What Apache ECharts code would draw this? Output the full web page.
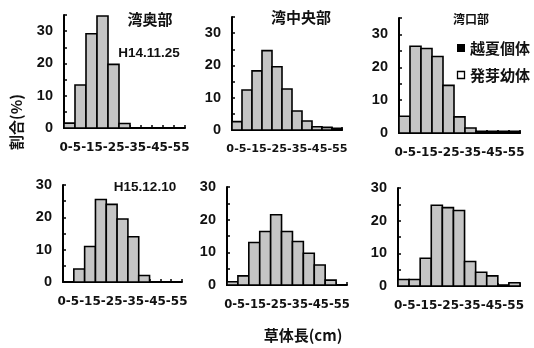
<!DOCTYPE html>
<html>
<head>
<meta charset="utf-8">
<script src="https://cdn.jsdelivr.net/npm/echarts@6/dist/echarts.min.js"></script>
<style>
html,body{margin:0;padding:0;background:#fff;}
#c{width:534px;height:348px;}
</style>
</head>
<body>
<div id="c"></div>
<script>
// ---- data ----
const binStarts = [0, 5, 10, 15, 20, 25, 30, 35, 40, 45, 50];
const binWidth = 5;
const xTickLabels = ['0', '5', '15', '25', '35', '45', '55'];
const yTickLabels = ['0', '10', '20', '30'];
const panelTitles = ['湾奥部', '湾中央部', '湾口部'];
const dateLabels = ['H14.11.25', 'H15.12.10'];
const legendLabels = ['越夏個体', '発芽幼体'];
const xAxisTitle = '草体長(cm)';
const yAxisTitle = '割合(%)';

const okuH14   = [1.5, 13.3, 29.2, 34.7, 19.7, 1.4, 0, 0, 0, 0, 0];
const chuoH14  = [2.6, 12.4, 18.3, 24.6, 19.6, 12.7, 5.9, 2.8, 1.0, 0.8, 0.5];
const kouH14   = [5.1, 26.4, 25.7, 23.3, 14.5, 4.9, 1.5, 0.5, 0.5, 0.5, 0.5];
const okuH15   = [0, 4.0, 11.0, 25.5, 24.0, 19.5, 14.0, 2.0, 0, 0, 0];
const chuoH15  = [1.0, 2.8, 13.0, 16.4, 21.5, 16.4, 13.3, 9.7, 6.1, 1.5, 0];
const kouH15   = [2.0, 2.0, 8.5, 24.7, 24.0, 23.1, 7.5, 4.2, 3.1, 0.3, 1.0];

// ---- layout ----
const panels = [
  {vals: okuH14,  left: 64,  top: 15,  width: 121, height: 113, max: 35, lab: 12},
  {vals: chuoH14, left: 232, top: 17,  width: 110, height: 113, max: 35, lab: 11.2},
  {vals: kouH14,  left: 399, top: 18,  width: 121, height: 115, max: 35, lab: 12},
  {vals: okuH15,  left: 63,  top: 185, width: 119, height: 97,  max: 30, lab: 12},
  {vals: chuoH15, left: 227, top: 187, width: 120, height: 98,  max: 30, lab: 11.6},
  {vals: kouH15,  left: 398, top: 188, width: 122, height: 98,  max: 30, lab: 12}
];

const numFont = '"Liberation Sans", Arial, sans-serif';
const tickFont = '"DejaVu Sans", sans-serif';
const cjkFont = '"Noto Sans CJK JP", sans-serif';
const lastX = Number(xTickLabels[xTickLabels.length - 1]);
const firstX = Number(xTickLabels[0]);

const grids = [], xAxes = [], yAxes = [], series = [];
panels.forEach((p, i) => {
  grids.push({left: p.left, top: p.top, width: p.width, height: p.height, containLabel: false});
  xAxes.push({
    type: 'value', gridIndex: i, min: firstX, max: lastX, interval: binWidth,
    axisLine: {show: true, onZero: false, lineStyle: {color: '#000', width: 2}},
    axisTick: {show: true, inside: true, length: 3, lineStyle: {color: '#000', width: 1.5}},
    splitLine: {show: false},
    axisLabel: {
      show: true, customValues: [(firstX + lastX) / 2], margin: 14, hideOverlap: false,
      color: '#111', fontFamily: tickFont, fontWeight: 'bold', fontSize: p.lab,
      formatter: () => xTickLabels.join('-')
    }
  });
  yAxes.push({
    type: 'value', gridIndex: i, min: 0, max: p.max, interval: 5,
    axisLine: {show: true, lineStyle: {color: '#000', width: 2}},
    axisTick: {show: true, inside: true, length: 3, lineStyle: {color: '#000', width: 1.5}},
    splitLine: {show: false},
    axisLabel: {
      show: true, margin: 11, color: '#111', fontFamily: numFont, fontWeight: 'bold', fontSize: 14.5,
      hideOverlap: false,
      formatter: v => (yTickLabels.indexOf(String(v)) >= 0 ? String(v) : '')
    }
  });
  series.push({
    type: 'custom', xAxisIndex: i, yAxisIndex: i,
    dimensions: ['start', 'end', 'pct'],
    encode: {x: [0, 1], y: 2},
    data: binStarts.map((s, k) => [s, s + binWidth, p.vals[k]]),
    renderItem: function (params, api) {
      const v = api.value(2);
      if (!v) return null;
      const p0 = api.coord([api.value(0), 0]);
      const p1 = api.coord([api.value(1), v]);
      return {
        type: 'rect',
        shape: {x: p0[0], y: p1[1], width: p1[0] - p0[0], height: p0[1] - p1[1]},
        style: {fill: '#c5c5c5', stroke: '#000', lineWidth: 1.6}
      };
    }
  });
});

const txt = (text, x, y, size, font, extra) => Object.assign({
  type: 'text', x: x, y: y,
  style: {text: text, fill: '#111', font: 'bold ' + size + 'px ' + font, textAlign: 'center', textVerticalAlign: 'middle'}
}, extra || {});

const graphic = [
  txt(panelTitles[0], 150, 19, 15, cjkFont),
  txt(panelTitles[1], 301, 17, 15, cjkFont),
  txt(panelTitles[2], 471, 19, 12, cjkFont),
  txt(dateLabels[0], 149, 53, 13.5, numFont),
  txt(dateLabels[1], 145, 187, 13.5, numFont),
  {type: 'rect', shape: {x: 457, y: 44, width: 8, height: 8}, style: {fill: '#000'}},
  txt(legendLabels[0], 500, 48, 15, cjkFont),
  {type: 'rect', shape: {x: 457.5, y: 71.5, width: 7, height: 7}, style: {fill: '#fff', stroke: '#000', lineWidth: 1.3}},
  txt(legendLabels[1], 500, 75, 15, cjkFont),
  txt(xAxisTitle, 303, 335, 15, cjkFont),
  txt(yAxisTitle, 16, 122, 15, cjkFont, {rotation: Math.PI / 2})
];

const chart = echarts.init(document.getElementById('c'), null, {renderer: 'canvas'});
chart.setOption({
  animation: false,
  backgroundColor: '#fff',
  grid: grids, xAxis: xAxes, yAxis: yAxes, series: series,
  graphic: graphic
});
</script>
</body>
</html>
